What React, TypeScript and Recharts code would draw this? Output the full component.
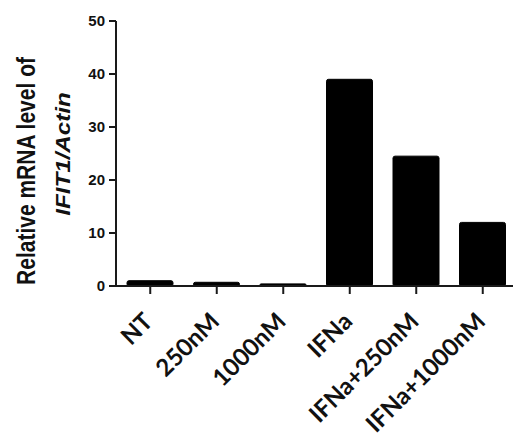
import { BarChart, Bar, XAxis, YAxis } from 'recharts'

const categories = ['NT', '250nM', '1000nM', 'IFNa', 'IFNa+250nM', 'IFNa+1000nM']
const values = [1.0, 0.7, 0.4, 39.0, 24.5, 12.0]
const yTicks = [0, 10, 20, 30, 40, 50]

const data = categories.map((name, i) => ({ name, value: values[i] }))

const AXIS = '#1a1a1a'

const AngledTick = (props: any) => {
    const { x, y, payload } = props
    const tx = x + 4
    const ty = y + 27
    return (
        <text
            x={tx}
            y={ty}
            transform={`rotate(-45 ${tx} ${ty})`}
            textAnchor="end"
            fontFamily="Lato"
            fontWeight={700}
            fontSize={24}
            fill="#111"
        >
            {payload.value}
        </text>
    )
}

const YTitle = () => (
    <g fill="#111" fontFamily="Liberation Sans, Arial" fontWeight={700}>
        <text x={0} y={0} transform="translate(35 171) rotate(-90) scale(1 1.2)" textAnchor="middle" fontSize={21}>
            Relative mRNA level of
        </text>
        <text x={0} y={0} transform="translate(70 154) rotate(-90) scale(1.15 1)" textAnchor="middle" fontSize={21} fontStyle="italic">
            IFIT1/Actin
        </text>
    </g>
)

export default function App() {
    return (
        <div style={{ position: 'absolute', left: 0, top: 0, width: 513, height: 435, overflow: 'hidden', background: '#fff' }}>
            <BarChart width={520} height={435} data={data} margin={{ top: 21, right: 4, bottom: 0, left: 0 }}>
                <XAxis
                    dataKey="name"
                    height={149}
                    interval={0}
                    padding={{ left: 1, right: 0 }}
                    axisLine={{ stroke: AXIS, strokeWidth: 2 }}
                    tickLine={{ stroke: AXIS, strokeWidth: 2 }}
                    tickSize={8}
                    tick={<AngledTick />}
                />
                <YAxis
                    width={116}
                    domain={[0, 50]}
                    ticks={yTicks}
                    interval={0}
                    axisLine={{ stroke: AXIS, strokeWidth: 2 }}
                    tickLine={{ stroke: AXIS, strokeWidth: 2 }}
                    tickSize={7}
                    tickMargin={4}
                    tick={{ fill: '#111', fontSize: 15, fontWeight: 700, fontFamily: 'Liberation Sans, Arial' }}
                    label={{ content: () => <YTitle /> }}
                />
                <Bar dataKey="value" fill="#000" stroke="#000" strokeWidth={1} barSize={46} radius={2} isAnimationActive={false} />
            </BarChart>
        </div>
    )
}
